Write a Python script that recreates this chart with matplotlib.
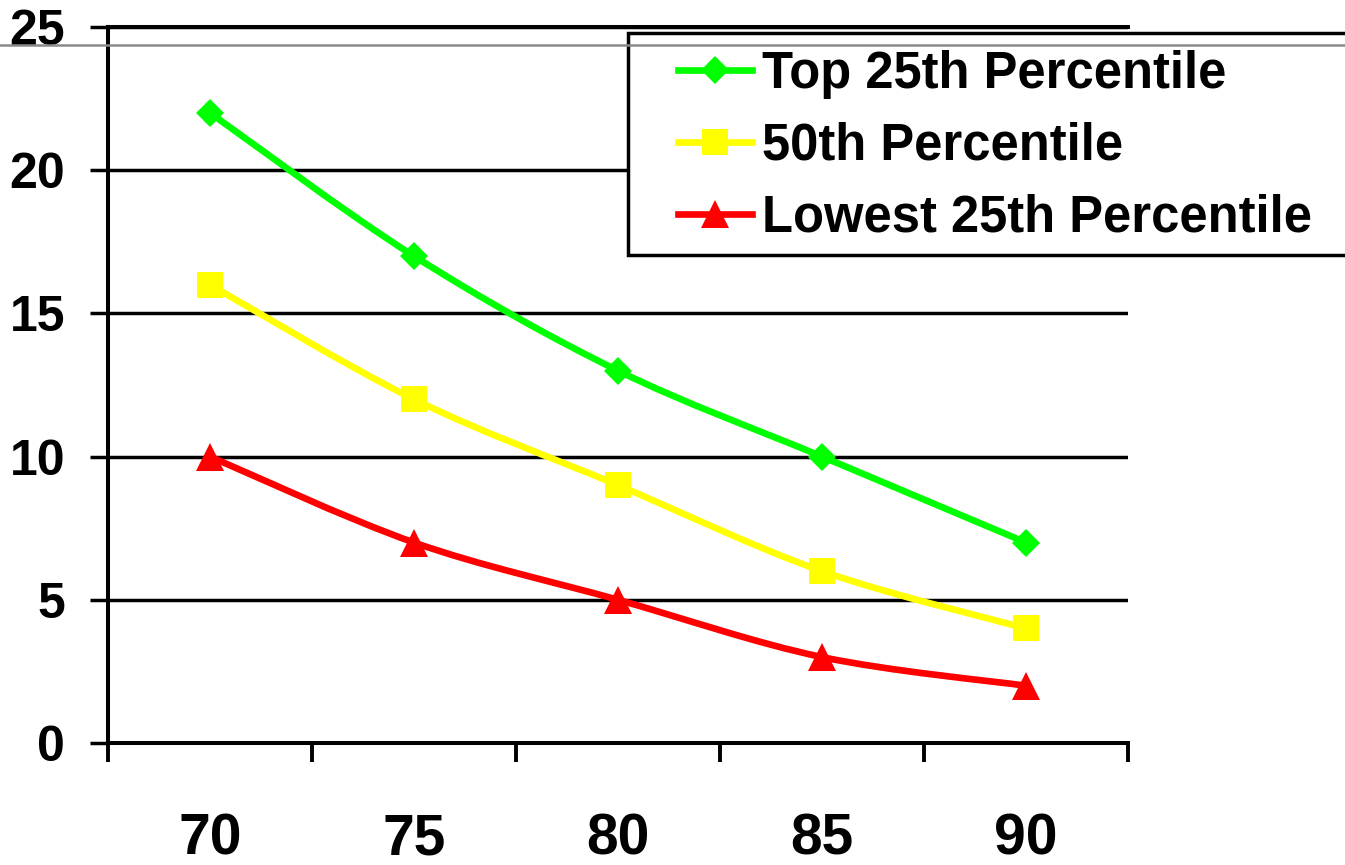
import numpy as np
import matplotlib
matplotlib.use("Agg")
import matplotlib.pyplot as plt
from matplotlib.path import Path
from matplotlib.patches import PathPatch, Rectangle
from matplotlib.lines import Line2D

categories = ["70", "75", "80", "85", "90"]
top25 = [22, 17, 13, 10, 7]
median50 = [16, 12, 9, 6, 4]
lowest25 = [10, 7, 5, 3, 2]
series_names = ["Top 25th Percentile", "50th Percentile", "Lowest 25th Percentile"]
y_ticks = [0, 5, 10, 15, 20, 25]

plt.rcParams['font.family'] = ['Liberation Sans', 'DejaVu Sans']
plt.rcParams['font.weight'] = 'bold'

W, H = 1345, 865
fig = plt.figure(figsize=(W / 100, H / 100), dpi=100)
ax = fig.add_axes([108 / W, 1 - 743 / H, (1128 - 108) / W, (743 - 27) / H])

xpos = np.arange(len(categories)) + 0.5


def smooth_path(xs, ys, t=1 / 6):
    pts = np.column_stack([xs, ys]).astype(float)
    n = len(pts)
    verts = [pts[0]]
    codes = [Path.MOVETO]
    for i in range(n - 1):
        p0 = pts[i - 1] if i > 0 else pts[i]
        p1 = pts[i]
        p2 = pts[i + 1]
        p3 = pts[i + 2] if i + 2 < n else pts[i + 1]
        verts += [p1 + (p2 - p0) * t, p2 - (p3 - p1) * t, p2]
        codes += [Path.CURVE4] * 3
    return Path(verts, codes)


styles = [
    (top25, '#00FF00', 'D', 14.5),
    (median50, '#FFFF00', 's', 19),
    (lowest25, '#FF0000', '^', 20.5),
]
handles = []
for vals, col, mk, ms in styles:
    ax.add_patch(PathPatch(smooth_path(xpos, vals), fill=False, edgecolor=col,
                           lw=4.8, capstyle='round', joinstyle='round', zorder=3))
    ax.plot(xpos, vals, linestyle='none', marker=mk, markersize=ms,
            color=col, markeredgewidth=0, zorder=4)
    handles.append(Line2D([], [], color=col, lw=4.8, marker=mk,
                          markersize=ms, markeredgewidth=0))

ax.set_xlim(0, len(categories))
ax.set_ylim(0, 25)
ax.set_yticks(y_ticks)
ax.set_yticklabels([str(v) for v in y_ticks])
ax.set_xticks(np.arange(len(categories) + 1))
ax.set_xticklabels([])
ax.set_xticks(xpos, minor=True)
ax.set_xticklabels(categories, minor=True)

ax.tick_params(axis='x', which='major', direction='out', length=13.5, width=2.8, color='black')
ax.tick_params(axis='x', which='minor', length=0, pad=50, labelsize=41)
ax.tick_params(axis='y', which='major', direction='out', length=13, width=2.5,
               pad=18, labelsize=36)

ax.grid(axis='y', color='black', lw=2.5, zorder=1)
ax.set_axisbelow(True)
for s in ['left', 'bottom', 'top']:
    ax.spines[s].set_linewidth(2.9)
    ax.spines[s].set_color('black')
ax.spines['right'].set_visible(False)

# legend box
fig.patches.append(Rectangle((628 / W, 1 - 255 / H), 1.0, (255 - 33) / H,
                             transform=fig.transFigure, facecolor='white',
                             edgecolor='black', lw=2.5, zorder=2))
leg = fig.legend(handles, series_names, loc='upper left',
                 bbox_to_anchor=(678 / W, 1 - 50 / H), frameon=False,
                 borderpad=0, borderaxespad=0, fontsize=36.5,
                 handlelength=1.45, handletextpad=0.2, labelspacing=0.45)
leg.set_zorder(5)

# thin grey border line across the top
fig.lines.append(Line2D([0, 1], [1 - 44.5 / H, 1 - 44.5 / H], transform=fig.transFigure,
                        color='#8a8a8a', lw=1.8, zorder=6))

fig.savefig('out.png', dpi=100)
